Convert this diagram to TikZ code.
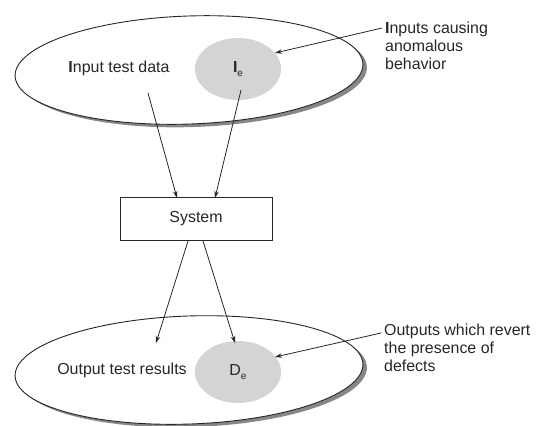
\documentclass[tikz,border=0pt]{standalone}
\usepackage{fontspec}
\setmainfont{Liberation Sans}
\usetikzlibrary{arrows.meta,shapes.geometric,shadows}
\begin{document}
\begin{tikzpicture}[x=1bp,y=-1bp,
  every node/.style={font=\fontsize{16}{18}\selectfont, text=black!85},
  bigell/.style={ellipse, draw=black!85, line width=0.9bp, fill=white,
    minimum width=348bp, minimum height=108bp, inner sep=0pt, rotate=2,
    drop shadow={shadow xshift=4bp, shadow yshift=-3bp, fill=black!47, opacity=1}},
  subset/.style={ellipse, fill=black!17, minimum width=86bp, minimum height=62bp, inner sep=0pt},
  lbl/.style={inner sep=0pt},
  callout/.style={inner sep=0pt, align=left, anchor=north west},
  conn/.style={draw=black!85, line width=0.8bp, -{Stealth[length=7bp,width=4.5bp]}},
  sysbox/.style={draw=black!85, line width=1bp, fill=white, minimum width=152bp, minimum height=43bp}
]
\useasboundingbox (0,0) rectangle (536,425);

% sets
\node[bigell] (inset) at (189,70) {};
\node[bigell] (outset) at (189,370) {};
\node[subset] (ie) at (238,69) {\textbf{I}\raisebox{-0.45ex}{\fontsize{10}{10}\selectfont e}};
\node[subset] (de) at (238,372) {D\raisebox{-0.45ex}{\fontsize{10}{10}\selectfont e}};
\node[lbl] (indata) at (119,68) {\textbf{I}nput test data};
\node[lbl] (outres) at (122,370) {Output test results};

% system
\node[sysbox] (sys) at (196,219) {System};

% callouts
\node[callout] (incall) at (385,21.5) {\textbf{I}nputs causing\\anomalous\\behavior};
\node[callout] (outcall) at (384,324) {Outputs which revert\\the presence of\\defects};

% connector end points
\coordinate (a1s) at (148,93);
\coordinate (a1e) at (177,198);
\coordinate (a2s) at (241,90);
\coordinate (a2e) at (215,198);
\coordinate (b1s) at (188,241);
\coordinate (b1e) at (156,343);
\coordinate (b2s) at (203,241);
\coordinate (b2e) at (235,343);
\coordinate (c1s) at (382,28);
\coordinate (c1e) at (275,53);
\coordinate (c2s) at (381,333);
\coordinate (c2e) at (275,357);

\draw[conn] (a1s) -- (a1e);
\draw[conn] (a2s) -- (a2e);
\draw[conn] (b1s) -- (b1e);
\draw[conn] (b2s) -- (b2e);
\draw[conn] (c1s) -- (c1e);
\draw[conn] (c2s) -- (c2e);
\end{tikzpicture}
\end{document}
